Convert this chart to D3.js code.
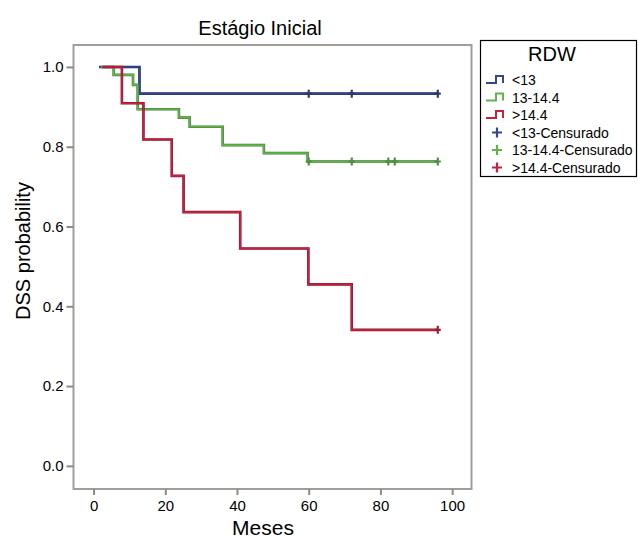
<!DOCTYPE html>
<html>
<head>
<meta charset="utf-8">
<script src="https://cdn.jsdelivr.net/npm/d3@7"></script>
<style>
  body { margin: 0; background: #fff; }
  text { font-family: "Liberation Sans", Arial, sans-serif; fill: #000; }
</style>
</head>
<body>
<svg id="km" width="638" height="538"></svg>
<script>
// series names and colours
const groups = ["<13", "13-14.4", ">14.4"];
const colors = ["#34478f", "#5fb54c", "#c8203f"];

// step points (time in months, survival)
const blueTime = [1.5, 12.8, 96];
const blueSurv = [1.0, 0.933, 0.933];
const blueCensor = [60, 72, 96];

const greenTime = [2, 5.6, 11, 12.3, 23.8, 26.8, 36, 47.5, 59.7, 96];
const greenSurv = [1.0, 0.98, 0.955, 0.894, 0.873, 0.85, 0.804, 0.784, 0.763, 0.763];
const greenCensor = [60, 72, 82.2, 84, 96];

const redTime = [2.5, 7.9, 13.9, 21.8, 25.1, 40.9, 59.9, 72, 96];
const redSurv = [1.0, 0.909, 0.818, 0.727, 0.636, 0.545, 0.455, 0.341, 0.341];
const redCensor = [96];

const xTicks = [0, 20, 40, 60, 80, 100];
const yTicks = [0, 0.2, 0.4, 0.6, 0.8, 1.0];

const legendLabels = ["<13", "13-14.4", ">14.4", "<13-Censurado", "13-14.4-Censurado", ">14.4-Censurado"];

const svg = d3.select("#km");

// plot frame
const frame = {left: 73.5, right: 471.5, top: 45, bottom: 489};

const x = d3.scaleLinear().domain([-5.6, 105.4]).range([frame.left, frame.right]);
const y = d3.scaleLinear().domain([-0.058, 1.055]).range([frame.bottom, frame.top]);

// frame box
svg.append("rect")
    .attr("x", frame.left)
    .attr("y", frame.top)
    .attr("width", frame.right - frame.left)
    .attr("height", frame.bottom - frame.top)
    .attr("fill", "#fff")
    .attr("stroke", "#a39d97")
    .attr("stroke-width", 2);

// axes
const xAxis = svg.append("g")
    .attr("transform", "translate(0," + frame.bottom + ")")
    .call(d3.axisBottom(x).tickValues(xTicks).tickSize(6).tickPadding(5).tickFormat(d3.format("d")));
const yAxis = svg.append("g")
    .attr("transform", "translate(" + frame.left + ",0)")
    .call(d3.axisLeft(y).tickValues(yTicks).tickSize(7).tickPadding(3).tickFormat(d3.format(".1f")));

[xAxis, yAxis].forEach(a => {
    a.select(".domain").remove();
    a.selectAll(".tick line").attr("stroke", "#8f8a85").attr("stroke-width", 2);
    a.selectAll(".tick text").style("font-family", "Liberation Sans, Arial, sans-serif")
        .style("font-size", "15px").attr("fill", "#000");
});

// curves
const series = [
    {time: blueTime, surv: blueSurv, censor: blueCensor},
    {time: greenTime, surv: greenSurv, censor: greenCensor},
    {time: redTime, surv: redSurv, censor: redCensor}
];

const line = d3.line()
    .x(d => x(d[0]))
    .y(d => y(d[1]))
    .curve(d3.curveStepAfter);

function survAt(s, t) {
    let v = s.surv[0];
    s.time.forEach((tt, i) => { if (tt <= t) v = s.surv[i]; });
    return v;
}

series.forEach((s, i) => {
    const pts = d3.zip(s.time, s.surv);
    // dark underlay then colour
    svg.append("path")
        .attr("d", line(pts))
        .attr("fill", "none")
        .attr("stroke", d3.color(colors[i]).darker(1.2))
        .attr("stroke-width", 2.6);
    svg.append("path")
        .attr("d", line(pts))
        .attr("fill", "none")
        .attr("stroke", colors[i])
        .attr("stroke-width", 1.6);

    // censor marks
    svg.selectAll(null)
        .data(s.censor)
        .enter().append("path")
        .attr("d", t => {
            const cx = x(t), cy = y(survAt(s, t));
            return "M" + (cx - 3) + "," + cy + "H" + (cx + 3) + "M" + cx + "," + (cy - 4) + "V" + (cy + 4);
        })
        .attr("stroke", d3.color(colors[i]).darker(0.6))
        .attr("stroke-width", 2.2);
});

// titles
svg.append("text")
    .attr("x", 260).attr("y", 35)
    .attr("text-anchor", "middle")
    .style("font-size", "20px")
    .text("Estágio Inicial");

svg.append("text")
    .attr("x", 263).attr("y", 535)
    .attr("text-anchor", "middle")
    .style("font-size", "21px")
    .text("Meses");

svg.append("text")
    .attr("transform", "translate(30,251) rotate(-90)")
    .attr("text-anchor", "middle")
    .style("font-size", "20px")
    .text("DSS probability");

// legend
const lg = svg.append("g");
lg.append("rect")
    .attr("x", 480.5).attr("y", 40.5)
    .attr("width", 156).attr("height", 136)
    .attr("fill", "#fff")
    .attr("stroke", "#000")
    .attr("stroke-width", 1.2);

lg.append("text")
    .attr("x", 552).attr("y", 61)
    .attr("text-anchor", "middle")
    .style("font-size", "20px")
    .text("RDW");

const rowY = d3.scaleLinear().domain([0, 5]).range([80, 167.5]);

legendLabels.forEach((lab, i) => {
    const cy = rowY(i);
    const c = colors[i % 3];
    if (i < 3) {
        lg.append("path")
            .attr("d", "M486," + (cy + 3) + "H496V" + (cy - 4) + "H503V" + (cy + 3))
            .attr("fill", "none")
            .attr("stroke", c)
            .attr("stroke-width", 2);
    } else {
        lg.append("path")
            .attr("d", "M492," + cy + "H502M497," + (cy - 5) + "V" + (cy + 5))
            .attr("stroke", c)
            .attr("stroke-width", 2.2);
    }
    lg.append("text")
        .attr("x", 512).attr("y", cy + 5)
        .style("font-size", "14px")
        .text(lab);
});
</script>
</body>
</html>
